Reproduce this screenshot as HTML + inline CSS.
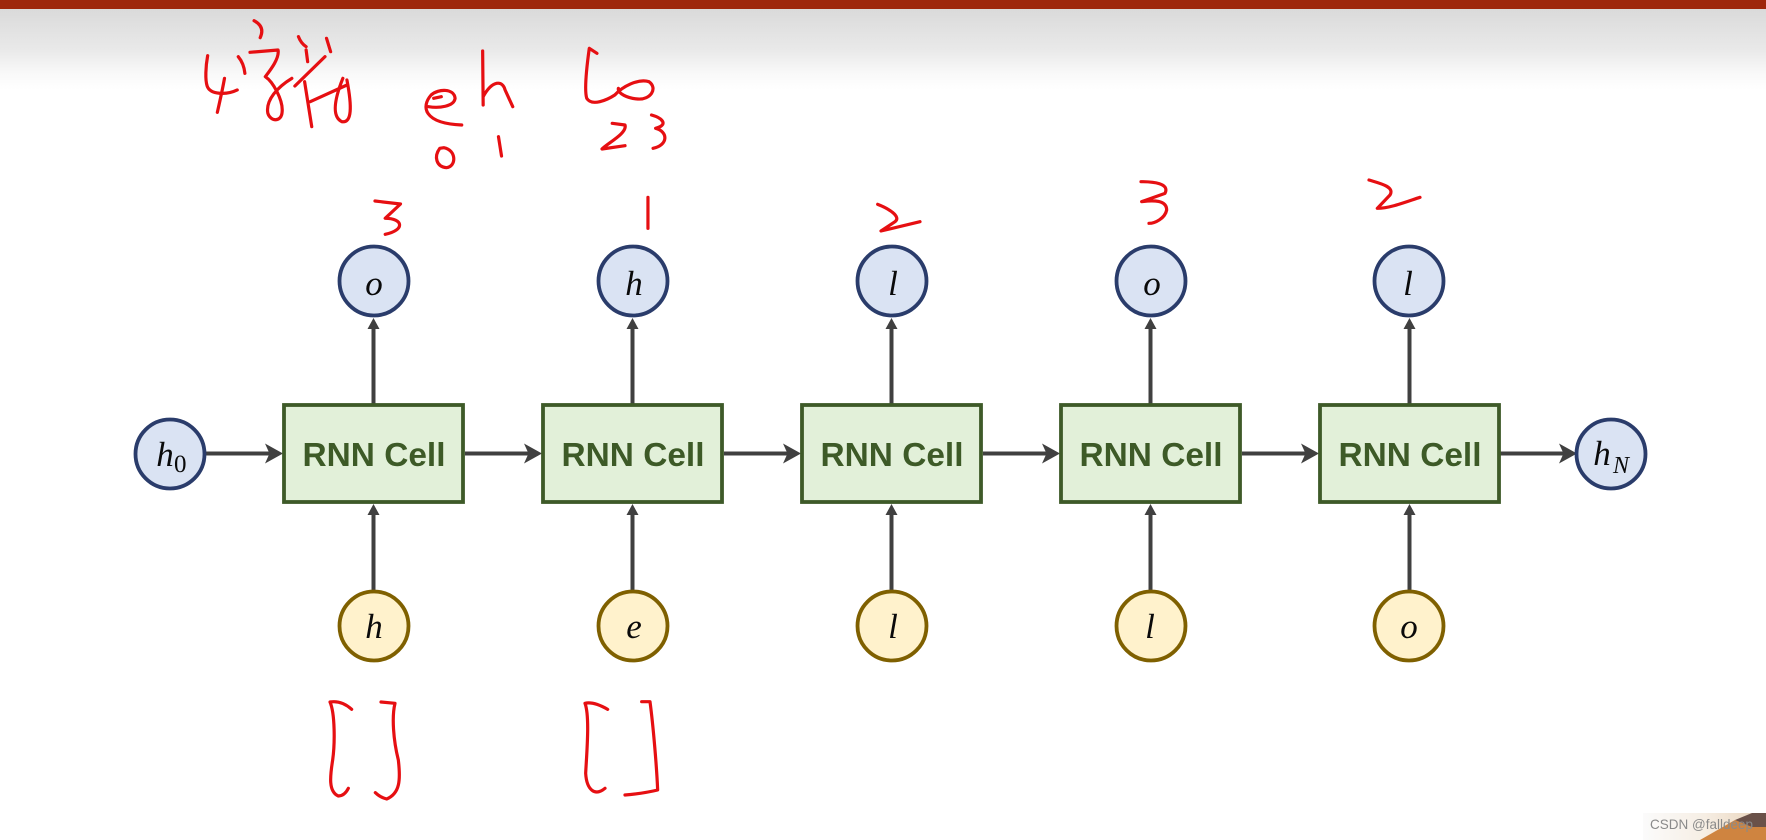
<!DOCTYPE html>
<html><head><meta charset="utf-8">
<style>
html,body{margin:0;padding:0;background:#fff;width:1766px;height:840px;overflow:hidden}
svg{display:block}
.m{font-family:"Liberation Serif",serif;font-style:italic;font-size:35px;fill:#0a0a0a;text-anchor:middle}
.s{font-family:"Liberation Serif",serif;font-size:25px;fill:#0a0a0a}
.c{font-family:"Liberation Sans",sans-serif;font-weight:bold;font-size:33px;fill:#3d5a27;text-anchor:middle}
.r path{fill:none;stroke:#e60f12;stroke-width:3.2;stroke-linecap:round;stroke-linejoin:round;vector-effect:non-scaling-stroke}
</style></head>
<body>
<svg width="1766" height="840" viewBox="0 0 1766 840" xmlns="http://www.w3.org/2000/svg">
<defs>
<linearGradient id="g" x1="0" y1="0" x2="0" y2="1">
<stop offset="0" stop-color="#dadada"/><stop offset=".5" stop-color="#e9e9e9"/><stop offset=".8" stop-color="#f9f9f9"/><stop offset="1" stop-color="#fff"/>
</linearGradient>
<linearGradient id="w" x1="0" y1="0" x2="1" y2="0">
<stop offset="0" stop-color="#fbfbfb"/><stop offset=".5" stop-color="#f6eee4"/><stop offset="1" stop-color="#e8d2b8"/>
</linearGradient>
<g id="col">
  <path d="M373.5 404V326" stroke="#404040" stroke-width="4" fill="none"/>
  <path d="M373.5 318L379.5 329H367.5Z" fill="#404040"/>
  <path d="M373.5 590V512" stroke="#404040" stroke-width="4" fill="none"/>
  <path d="M373.5 504L379.5 515H367.5Z" fill="#404040"/>
  <rect x="284" y="405" width="179" height="97" fill="#e2f0d9" stroke="#3e5a28" stroke-width="3.800"/>
  <text class="c" x="374" y="466" textLength="143" lengthAdjust="spacingAndGlyphs">RNN Cell</text>
</g>
<g id="arrow">
  <path d="M0 0H72" stroke="#404040" stroke-width="4" fill="none"/>
  <path d="M77 0L59 -10L63.500 0L59 10Z" fill="#404040"/>
</g>
</defs>

<rect x="0" y="9" width="1766" height="81" fill="url(#g)"/>
<rect x="0" y="0" width="1766" height="9" fill="#9e270c"/>

<use href="#arrow" transform="translate(206,453.500)"/>
<use href="#arrow" transform="translate(465,453.500)"/>
<use href="#arrow" transform="translate(724,453.500)"/>
<use href="#arrow" transform="translate(983,453.500)"/>
<use href="#arrow" transform="translate(1242,453.500)"/>
<use href="#arrow" transform="translate(1500,453.500)"/>

<use href="#col"/>
<use href="#col" x="259"/>
<use href="#col" x="518"/>
<use href="#col" x="777"/>
<use href="#col" x="1036"/>

<g fill="#dae3f3" stroke="#2a3c6b" stroke-width="3.800">
<circle cx="374" cy="281" r="34.500"/>
<circle cx="633" cy="281" r="34.500"/>
<circle cx="892" cy="281" r="34.500"/>
<circle cx="1151" cy="281" r="34.500"/>
<circle cx="1409" cy="281" r="34.500"/>
<circle cx="170" cy="454" r="34.500"/>
<circle cx="1611" cy="454" r="34.500"/>
</g>
<g fill="#fff2cc" stroke="#7f6000" stroke-width="3.800">
<circle cx="374" cy="626" r="34.500"/>
<circle cx="633" cy="626" r="34.500"/>
<circle cx="892" cy="626" r="34.500"/>
<circle cx="1151" cy="626" r="34.500"/>
<circle cx="1409" cy="626" r="34.500"/>
</g>

<text class="m" x="374" y="295">o</text>
<text class="m" x="634" y="295">h</text>
<text class="m" x="893" y="295">l</text>
<text class="m" x="1152" y="295">o</text>
<text class="m" x="1408" y="295">l</text>
<text class="m" x="374" y="638">h</text>
<text class="m" x="634" y="638">e</text>
<text class="m" x="893" y="638">l</text>
<text class="m" x="1150" y="638">l</text>
<text class="m" x="1409" y="638">o</text>
<text class="m" x="165" y="466">h</text>
<text class="s" x="174" y="472">0</text>
<text class="m" x="1602" y="465">h</text>
<text class="s" x="1613" y="473" style="font-style:italic;font-size:24px">N</text>

<g class="r" transform="scale(.5102,.33333)">
<path d="M407 167C403 200 402 240 406 258C412 285 445 285 465 270"/>
<path d="M440 235C436 270 430 310 426 337"/>
<path d="M467 170Q478 190 480 220"/>
<path d="M498 62Q520 80 510 113"/>
<path d="M490 157L545 150C548 175 530 210 520 230C535 245 555 300 553 335C552 368 530 365 525 340C520 300 545 260 572 235"/>
<path d="M585 110Q590 130 600 140"/>
<path d="M600 150L603 185"/>
<path d="M640 115L648 155"/>
<path d="M637 170L578 258"/>
<path d="M597 245L611 380"/>
<path d="M608 305L680 255"/>
<path d="M672 235C655 300 650 350 670 365C690 370 690 320 680 240"/>
<path d="M850 295L865 290M840 320C860 325 890 320 892 295C890 265 860 265 845 285C825 320 830 370 905 375"/>
<path d="M946 153L947 315M947 290C965 240 985 240 990 270L1005 320"/>
<path d="M1170 160L1155 145C1150 200 1145 270 1150 295C1160 320 1190 300 1205 285C1220 260 1250 235 1272 245C1290 265 1275 300 1250 297C1230 295 1210 280 1212 265"/>
<path d="M1200 370L1225 375C1230 400 1190 430 1180 447L1225 437"/>
<path d="M1277 345C1300 355 1310 375 1285 385C1310 395 1310 435 1280 445"/>
<path d="M862 445C850 470 855 500 875 503C895 500 895 450 870 443Z"/>
<path d="M977 410L983 468"/>
<path d="M735 603L785 612L755 655C790 655 795 690 755 703"/>
<path d="M1270 592L1270 685"/>
</g>
<g class="r" transform="translate(800,170) scale(.33333)">
<path d="M233 103C265 115 305 140 285 155L243 183L360 155"/>
<path d="M1023 35C1060 35 1110 40 1095 70L1025 95C1060 90 1100 90 1100 120C1095 145 1065 160 1047 160"/>
</g>
<g class="r" transform="translate(1300,160) scale(.33333)">
<path d="M207 60C240 70 285 80 270 105L232 145C270 145 320 125 360 112"/>
</g>
<g class="r" transform="translate(280,660) scale(.33333)">
<path d="M215 148C195 130 175 122 150 126C165 160 165 250 158 300C150 350 145 395 175 408C190 408 200 395 205 385"/>
<path d="M303 126L345 130C335 170 340 240 355 300C362 360 360 400 320 417Q300 412 286 398"/>
<path d="M983 148C960 135 935 125 915 130C930 170 920 280 917 340C920 390 945 410 975 385"/>
<path d="M1085 125L1110 125C1120 200 1130 320 1133 390C1100 398 1070 402 1035 405"/>
</g>

<rect x="1643" y="813" width="123" height="27" fill="url(#w)"/>
<path d="M1700 840L1735 820L1752 826H1766V840Z" fill="#cf8440"/>
<path d="M1735 820L1752 813H1766V827H1752Z" fill="#6a5149"/>
<text x="1650" y="829" font-family="Liberation Sans, sans-serif" font-size="14" fill="#8a8a8a" textLength="103" lengthAdjust="spacingAndGlyphs">CSDN @falldeep</text>
</svg>
</body></html>
